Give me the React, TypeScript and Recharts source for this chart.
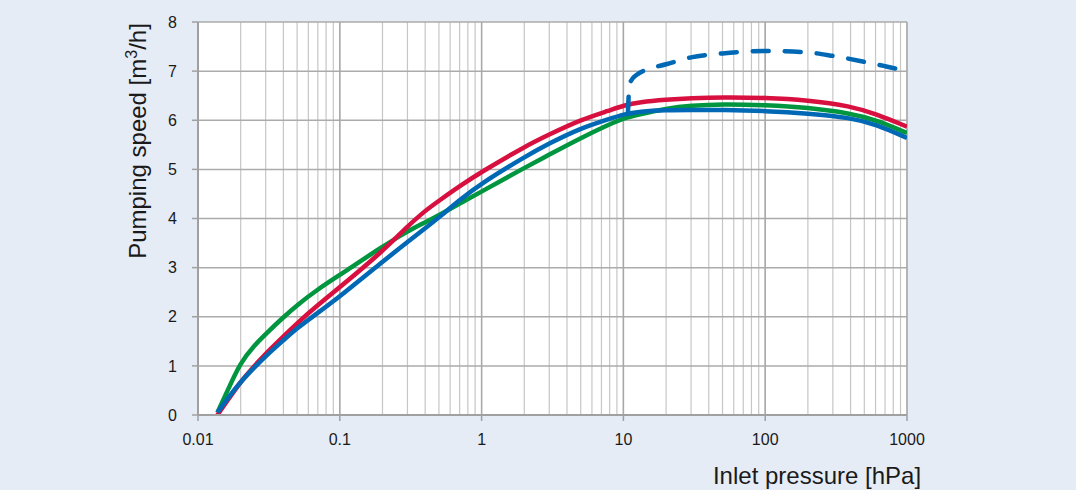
import {
  LineChart,
  Line,
  XAxis,
  YAxis,
  CartesianGrid,
  ReferenceLine,
} from "recharts";

// inlet pressure in hPa, log axis
const decades = [0.01, 0.1, 1, 10, 100, 1000];
const minorSteps = [2, 3, 4, 5, 6, 7, 8, 9];
const speedTicks = [0, 1, 2, 3, 4, 5, 6, 7, 8];

const pressure = [
  0.0137, 0.016, 0.02, 0.025, 0.03, 0.04, 0.05, 0.07, 0.1, 0.2, 0.3, 0.4, 0.5, 0.7, 1, 2, 3, 5, 8,
  10, 13, 20, 30, 50, 100, 200, 400, 600, 1000,
];
const redSpeed = [
  0.0, 0.28, 0.68, 1.0, 1.25, 1.6, 1.87, 2.24, 2.6, 3.33, 3.84, 4.16, 4.36, 4.66, 4.95, 5.46,
  5.71, 6.01, 6.2, 6.3, 6.37, 6.42, 6.45, 6.47, 6.46, 6.41, 6.29, 6.13, 5.87,
];
const greenSpeed = [
  0.05, 0.47, 1.08, 1.42, 1.65, 1.99, 2.24, 2.56, 2.85, 3.43, 3.74, 3.92, 4.07, 4.3, 4.55, 5.03,
  5.3, 5.64, 5.92, 6.04, 6.12, 6.24, 6.3, 6.33, 6.31, 6.26, 6.14, 6.01, 5.74,
];
const blueSpeed = [
  0.05, 0.32, 0.68, 0.97, 1.2, 1.52, 1.77, 2.08, 2.41, 3.12, 3.52, 3.8, 4.02, 4.38, 4.72, 5.25,
  5.53, 5.84, 6.03, 6.12, 6.18, 6.21, 6.21, 6.21, 6.19, 6.14, 6.05, 5.92, 5.64,
];

// dashed branch
const dashPressure = [10.77, 10.9, 11.3, 12.5, 15, 20, 30, 50, 100, 200, 300, 500, 700, 1000];
const dashSpeed = [6.15, 6.5, 6.8, 6.93, 7.04, 7.14, 7.28, 7.36, 7.41, 7.38, 7.31, 7.19, 7.1, 7.0];

const toRows = (xs: number[], ys: number[]) => xs.map((p, i) => ({ p, s: ys[i] }));
const redData = toRows(pressure, redSpeed);
const greenData = toRows(pressure, greenSpeed);
const blueData = toRows(pressure, blueSpeed);
const dashData = toRows(dashPressure, dashSpeed);

const xTicks = [
  ...decades,
  ...decades.slice(0, -1).flatMap((d) => minorSteps.map((m) => +(d * m).toPrecision(3))),
].sort((a, b) => a - b);

const FONT = '"Liberation Sans", Arial, sans-serif';
const AXIS = "#a0a0a0";

const XTick = (props: any) => {
  const { x, y, payload } = props;
  if (!decades.includes(payload.value)) return null;
  return (
    <g>
      <line x1={x} x2={x} y1={y - 6} y2={y} stroke={AXIS} strokeWidth={1.5} />
      <text x={x} y={y + 24} textAnchor="middle" fontSize={16} fill="#1a1a1a" fontFamily={FONT}>
        {payload.value}
      </text>
    </g>
  );
};

const YTitle = () => (
  <text
    x={146}
    y={141}
    transform="rotate(-90 146 141)"
    textAnchor="middle"
    fontSize={24}
    fill="#1a1a1a"
    fontFamily={FONT}
  >
    Pumping speed [m
    <tspan dy={-9} fontSize={16}>
      3
    </tspan>
    <tspan dy={9}>/h]</tspan>
  </text>
);

const XTitle = () => (
  <text x={817} y={484} textAnchor="middle" fontSize={24} fill="#1a1a1a" fontFamily={FONT}>
    Inlet pressure [hPa]
  </text>
);

const App = () => {
  return (
    <div
      style={{
        position: "absolute",
        left: 0,
        top: 0,
        width: 1076,
        height: 490,
        background: "#e6ecf6",
      }}
    >
      <LineChart width={1076} height={490} margin={{ top: 22, right: 169, bottom: 45, left: 138 }}>
        <CartesianGrid
          fill="#ffffff"
          fillOpacity={1}
          horizontal={false}
          stroke="#c6c6c6"
          strokeWidth={1.2}
        />
        <CartesianGrid vertical={false} stroke="#ababab" strokeWidth={1.5} />
        {decades.map((d) => (
          <ReferenceLine key={d} x={d} stroke="#a8a8a8" strokeWidth={1.5} />
        ))}
        <XAxis
          type="number"
          dataKey="p"
          scale="log"
          domain={[0.01, 1000]}
          allowDataOverflow
          ticks={xTicks}
          interval={0}
          height={30}
          tickSize={6}
          tickMargin={0}
          tickLine={false}
          tick={<XTick />}
          axisLine={{ stroke: AXIS, strokeWidth: 2 }}
          label={{ content: XTitle }}
        />
        <YAxis
          type="number"
          dataKey="s"
          domain={[0, 8]}
          ticks={speedTicks}
          interval={0}
          width={60}
          tickSize={6}
          tickMargin={15}
          tickLine={{ stroke: AXIS, strokeWidth: 1.5 }}
          axisLine={{ stroke: AXIS, strokeWidth: 2 }}
          tick={{ fontSize: 16, fill: "#1a1a1a", fontFamily: FONT }}
          label={{ content: YTitle }}
        />
        <Line
          data={greenData}
          dataKey="s"
          type="basis"
          stroke="#00963f"
          strokeWidth={4.5}
          dot={false}
          isAnimationActive={false}
        />
        <Line
          data={redData}
          dataKey="s"
          type="basis"
          stroke="#d8103f"
          strokeWidth={4.5}
          dot={false}
          isAnimationActive={false}
        />
        <Line
          data={blueData}
          dataKey="s"
          type="basis"
          stroke="#0068b4"
          strokeWidth={4.5}
          dot={false}
          isAnimationActive={false}
        />
        <Line
          data={dashData}
          dataKey="s"
          type="monotone"
          stroke="#0068b4"
          strokeWidth={4.5}
          strokeDasharray="16 16"
          strokeLinecap="round"
          dot={false}
          isAnimationActive={false}
        />
      </LineChart>
    </div>
  );
};

export default App;
